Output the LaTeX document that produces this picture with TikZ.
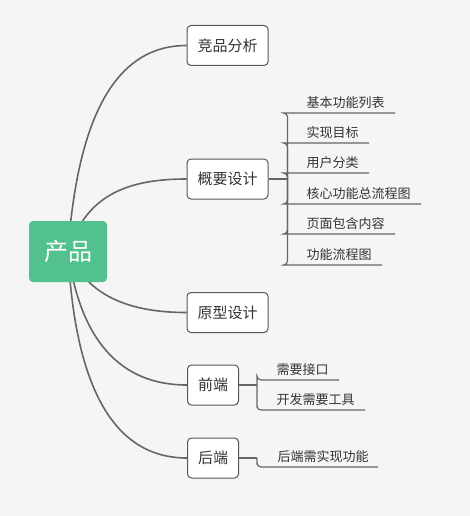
\documentclass[tikz,border=0pt]{standalone}
\usepackage{fontspec}
\newfontfamily\cjk{Noto Sans CJK SC}
\usepackage{xcolor}
\usepackage{tikz}
\usetikzlibrary{backgrounds}
\definecolor{mapbg}{HTML}{F5F5F5}
\definecolor{rootgreen}{HTML}{52C18D}
\definecolor{linkgray}{HTML}{666666}
\definecolor{textgray}{HTML}{333333}

\begin{document}
\begin{tikzpicture}[x=1pt, y=-1pt, line width=1pt,
  root/.style={rectangle, rounded corners=4pt, fill=rootgreen, text=white,
    font=\cjk\fontsize{24}{28}\selectfont, minimum width=78pt, minimum height=61pt},
  topic/.style={rectangle, rounded corners=4pt, draw=linkgray!85!black, fill=white,
    text=textgray, font=\cjk\fontsize{15}{18}\selectfont, inner xsep=10.5pt, minimum height=40pt},
  leaf/.style={anchor=south west, inner xsep=0pt, inner ysep=3.5pt, text height=10pt,
    text depth=2pt, text=textgray, font=\cjk\fontsize{13}{16}\selectfont},
  curve/.style={draw=linkgray, line width=1.6pt},
  link/.style={draw=linkgray, line width=1.2pt, rounded corners=4pt}]

\useasboundingbox (0,0) rectangle (470,516);

% root and first-level topics
\node[root] (rt) at (68,251.5) {产品};
\node[topic] (jp) at (227.5,45.5) {竞品分析};
\node[topic] (gy) at (227.5,179) {概要设计};
\node[topic] (yx) at (227.5,312.5) {原型设计};
\node[topic] (qd) at (213,385) {前端};
\node[topic] (hd) at (213,458) {后端};

% 概要设计 : six underlined items
\coordinate (gyj) at ([xshift=19pt]gy.east);
\draw[link] (gy.east) -- (gyj);
\foreach \i/\txt/\yy in {1/基本功能列表/113, 2/实现目标/143, 3/用户分类/173,
                         4/核心功能总流程图/204, 5/页面包含内容/234, 6/功能流程图/265}{
  \node[leaf] (gy\i) at (306,\yy) {\txt};
  \draw[link] (gyj) |- ([xshift=-19pt]gy\i.south west) -- ([xshift=10pt]gy\i.south east);
}

% 前端 : two items
\coordinate (qdj) at ([xshift=18pt]qd.east);
\draw[link] (qd.east) -- (qdj);
\foreach \i/\txt/\yy in {1/需要接口/380, 2/开发需要工具/410}{
  \node[leaf] (qd\i) at (276,\yy) {\txt};
  \draw[link] (qdj) |- ([xshift=-19pt]qd\i.south west) -- ([xshift=10pt]qd\i.south east);
}

% 后端 : one item
\coordinate (hdj) at ([xshift=18pt]hd.east);
\draw[link] (hd.east) -- (hdj);
\node[leaf] (hd1) at (277,467) {后端需实现功能};
\draw[link] (hdj) |- ([xshift=-20pt]hd1.south west) -- ([xshift=9pt]hd1.south east);

% background and the curves out of the root, kept under the nodes
\begin{scope}[on background layer]
  \fill[mapbg] (0,0) rectangle (470,516);
  \draw[curve] (rt.center) .. controls (76,140) and (105,45.5) .. (jp.west);
  \draw[curve] (rt.center) .. controls (85,200) and (120,179) .. (gy.west);
  \draw[curve] (rt.center) .. controls (85,290) and (120,312.5) .. (yx.west);
  \draw[curve] (rt.center) .. controls (80,340) and (120,385) .. (qd.west);
  \draw[curve] (rt.center) .. controls (75,390) and (115,458) .. (hd.west);
\end{scope}

\end{tikzpicture}
\end{document}
